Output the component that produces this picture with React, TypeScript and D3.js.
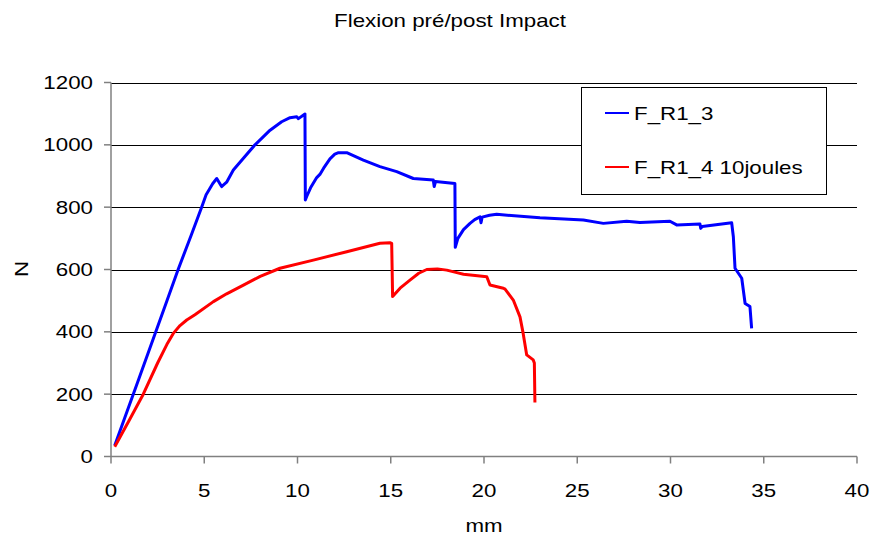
import { useMemo } from "react";
import * as d3 from "d3";

// F_R1_3 (blue) : [mm, N]
const blueMm = [0.2, 1.5, 3.0, 3.6, 4.3, 4.86, 5.1, 5.3, 5.45, 5.67, 5.93, 6.2, 6.56, 7.1, 7.72, 8.53, 9.15, 9.6, 9.96, 10.05, 10.4, 10.42, 10.5, 10.7, 11.03, 11.2, 11.4, 11.74, 12.0, 12.2, 12.64, 13.53, 14.42, 15.32, 16.21, 17.28, 17.33, 17.4, 18.44, 18.46, 18.6, 18.9, 19.25, 19.5, 19.79, 19.84, 19.9, 20.3, 20.68, 23.0, 25.33, 26.4, 27.65, 28.36, 29.97, 30.33, 31.58, 31.62, 31.7, 33.28, 33.37, 33.46, 33.82, 34.0, 34.26, 34.35];
const blueN = [35, 250, 500, 600, 710, 800, 840, 860, 875, 892, 866, 880, 919, 957, 1000, 1047, 1074, 1087, 1090, 1084, 1099, 823, 835, 862, 895, 905, 925, 955, 970, 975, 975, 951, 930, 914, 892, 887, 866, 882, 876, 671, 700, 728, 748, 760, 769, 750, 768, 774, 777, 766, 759, 748, 755, 751, 755, 743, 746, 732, 738, 750, 705, 604, 572, 491, 481, 411];

// F_R1_4 10joules (red)
const redMm = [0.2, 1.0, 1.73, 2.5, 3.0, 3.34, 3.7, 4.06, 4.5, 5.49, 6.2, 7.1, 8.0, 9.06, 10.85, 12.64, 14.42, 14.96, 15.05, 15.1, 15.5, 16.03, 16.5, 16.93, 17.5, 18.0, 18.54, 18.9, 20.15, 20.32, 21.04, 21.13, 21.57, 21.93, 22.1, 22.29, 22.64, 22.7, 22.73];
const redN = [31, 119, 200, 300, 360, 395, 420, 438, 455, 497, 522, 550, 578, 604, 630, 657, 684, 686, 684, 513, 540, 566, 588, 600, 602, 598, 590, 585, 577, 550, 540, 537, 502, 448, 395, 326, 310, 300, 173];

const xTicks = [0, 5, 10, 15, 20, 25, 30, 35, 40];
const yTicks = [0, 200, 400, 600, 800, 1000, 1200];

const seriesNames = ["F_R1_3", "F_R1_4 10joules"];
const seriesColors = ["#0000ff", "#ff0000"];

const W = 870;
const H = 535;
const FONT = "'Liberation Sans', Arial, sans-serif";
const SX = 1.24; // text in the source is stretched horizontally

function T({ x, y, children, anchor = "start", rotate = 0 }: any) {
  return (
    <text
      transform={`translate(${x},${y}) rotate(${rotate}) scale(${SX},1)`}
      textAnchor={anchor}
      fontFamily={FONT}
      fontSize={18}
      fill="#000"
    >
      {children}
    </text>
  );
}

export default function App() {
  const x = useMemo(() => d3.scaleLinear().domain([0, 40]).range([111, 857]), []);
  const y = useMemo(() => d3.scaleLinear().domain([0, 1200]).range([456.5, 82.5]), []);

  const line = d3
    .line<[number, number]>()
    .x((d) => x(d[0]))
    .y((d) => y(d[1]));

  const blue = blueMm.map((m, i) => [m, blueN[i]] as [number, number]);
  const red = redMm.map((m, i) => [m, redN[i]] as [number, number]);

  return (
    <svg width={W} height={H} style={{ position: "absolute", left: 0, top: 0, background: "#fff" }}>
      <T x={450} y={27} anchor="middle">Flexion pré/post Impact</T>

      {/* gridlines */}
      {yTicks.filter((t) => t > 0).map((t) => (
        <line key={t} x1={x(0)} x2={x(40)} y1={Math.round(y(t)) + 0.5} y2={Math.round(y(t)) + 0.5} stroke="#000" strokeWidth={1} />
      ))}

      {/* axes */}
      <g stroke="#808080" strokeWidth={1.5}>
        <line x1={x(0)} x2={x(0)} y1={y(1200)} y2={y(0)} />
        <line x1={x(0)} x2={x(40)} y1={y(0)} y2={y(0)} />
        {yTicks.map((t) => (
          <line key={t} x1={x(0) - 7} x2={x(0)} y1={y(t)} y2={y(t)} />
        ))}
        {xTicks.map((t) => (
          <line key={t} x1={x(t)} x2={x(t)} y1={y(0)} y2={y(0) + 7} />
        ))}
      </g>

      {yTicks.map((t) => (
        <T key={t} x={93} y={y(t) + 6.5} anchor="end">{t}</T>
      ))}
      {xTicks.map((t) => (
        <T key={t} x={x(t)} y={497} anchor="middle">{t}</T>
      ))}
      <T x={484} y={532} anchor="middle">mm</T>
      <T x={28} y={269} anchor="middle" rotate={-90}>N</T>

      {/* series */}
      <path d={line(blue) ?? ""} fill="none" stroke={seriesColors[0]} strokeWidth={3} strokeLinejoin="round" />
      <path d={line(red) ?? ""} fill="none" stroke={seriesColors[1]} strokeWidth={3} strokeLinejoin="round" />

      {/* legend */}
      <rect x={581.5} y={87.5} width={245} height={107} fill="#fff" stroke="#000" strokeWidth={1} />
      {seriesNames.map((n, i) => (
        <g key={n}>
          <line x1={605} x2={629} y1={113 + i * 54} y2={113 + i * 54} stroke={seriesColors[i]} strokeWidth={2} />
          <T x={634} y={119.5 + i * 54}>{n}</T>
        </g>
      ))}
    </svg>
  );
}
